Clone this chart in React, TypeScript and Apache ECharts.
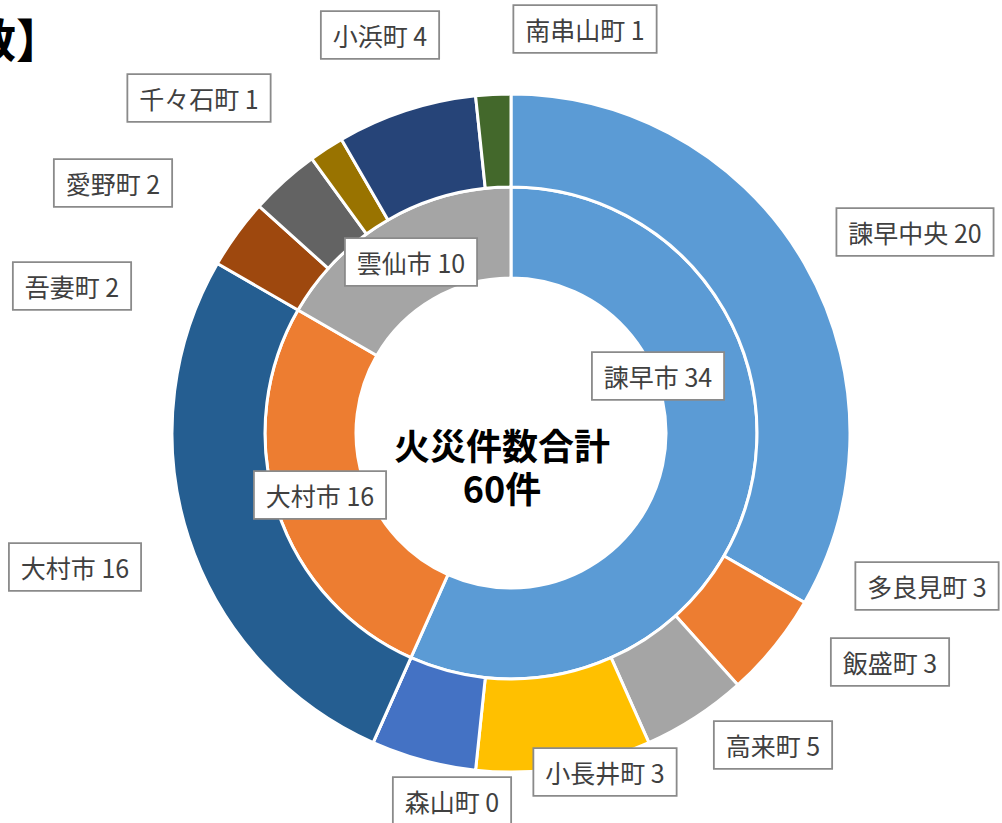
import React, { useEffect, useRef } from "react";
import * as echarts from "echarts";

const innerNames = ["諫早市", "大村市", "雲仙市"];
const innerValues = [34, 16, 10];
const outerNames = ["諫早中央", "多良見町", "飯盛町", "高来町", "小長井町", "森山町", "大村市", "吾妻町", "愛野町", "千々石町", "小浜町", "南串山町"];
const outerValues = [20, 3, 3, 5, 3, 0, 16, 2, 2, 1, 4, 1];
const totalTitle = "火災件数合計";
const totalValue = "60件";
const titleFragment = "数】";

const innerColors = ["#5B9BD5", "#ED7D31", "#A5A5A5"];
const outerColors = ["#5B9BD5", "#ED7D31", "#A5A5A5", "#FFC000", "#4472C4", "#70AD47", "#255E91", "#9E480E", "#636363", "#997300", "#264478", "#43682B"];

// label box centres (layout, not data)
const innerLabelPos = [[658, 376], [320, 495], [411, 262]];
const outerLabelPos = [[915, 232], [927, 586], [890, 662], [773, 745], [605, 772], [452, 801], [75, 567], [72, 286], [113, 183], [199, 98], [380, 35], [585, 29]];

const FONT = "'Noto Sans CJK JP', 'Noto Sans', sans-serif";

const labelStyle = {
  show: true,
  formatter: "{b} {c}",
  color: "#404040",
  fontSize: 25,
  lineHeight: 30,
  fontFamily: FONT,
  backgroundColor: "#ffffff",
  borderColor: "#8a8a8a",
  borderWidth: 1.8,
  padding: [8, 11, 8, 11],
};

export default function App() {
  const ref = useRef<HTMLDivElement>(null);
  useEffect(() => {
    if (!ref.current) return;
    const chart = echarts.init(ref.current, null, { renderer: "svg" });
    chart.setOption({
      animation: false,
      backgroundColor: "#ffffff",
      graphic: [
        {
          type: "text",
          left: -30,
          top: 14,
          style: { text: titleFragment, fontSize: 46, fontWeight: "bold", fill: "#000", fontFamily: FONT },
        },
        {
          type: "text",
          x: 502,
          y: 444,
          style: {
            text: totalTitle,
            fontSize: 36,
            lineHeight: 40,
            fontWeight: "bold",
            fill: "#000",
            fontFamily: FONT,
            align: "center",
            verticalAlign: "middle",
          },
          z: 100,
        },
        {
          type: "text",
          x: 502,
          y: 487,
          style: {
            text: totalValue,
            fontSize: 36,
            lineHeight: 40,
            fontWeight: "bold",
            fill: "#000",
            fontFamily: FONT,
            align: "center",
            verticalAlign: "middle",
          },
          z: 100,
        },
      ],
      series: [
        {
          type: "pie",
          center: [511, 433],
          radius: [155, 246],
          startAngle: 90,
          clockwise: true,
          avoidLabelOverlap: false,
          itemStyle: { borderColor: "#fff", borderWidth: 3 },
          label: labelStyle,
          labelLine: { show: false },
          labelLayout: (p: any) => {
            const pos = innerLabelPos[p.dataIndex];
            return { x: pos[0], y: pos[1], align: "center", verticalAlign: "middle" };
          },
          emphasis: { disabled: true },
          data: innerNames.map((n, i) => ({ name: n, value: innerValues[i], itemStyle: { color: innerColors[i] } })),
          z: 2,
        },
        {
          type: "pie",
          center: [511, 433],
          radius: [246, 339],
          startAngle: 90,
          clockwise: true,
          avoidLabelOverlap: false,
          minShowLabelAngle: 0,
          itemStyle: { borderColor: "#fff", borderWidth: 3 },
          label: labelStyle,
          labelLine: { show: false },
          labelLayout: (p: any) => {
            const pos = outerLabelPos[p.dataIndex];
            return { x: pos[0], y: pos[1], align: "center", verticalAlign: "middle" };
          },
          emphasis: { disabled: true },
          data: outerNames.map((n, i) => ({ name: n, value: outerValues[i], itemStyle: { color: outerColors[i] } })),
          z: 2,
        },
      ],
    });
    return () => chart.dispose();
  }, []);
  return <div ref={ref} style={{ position: "absolute", left: 0, top: 0, width: 1002, height: 823 }} />;
}
